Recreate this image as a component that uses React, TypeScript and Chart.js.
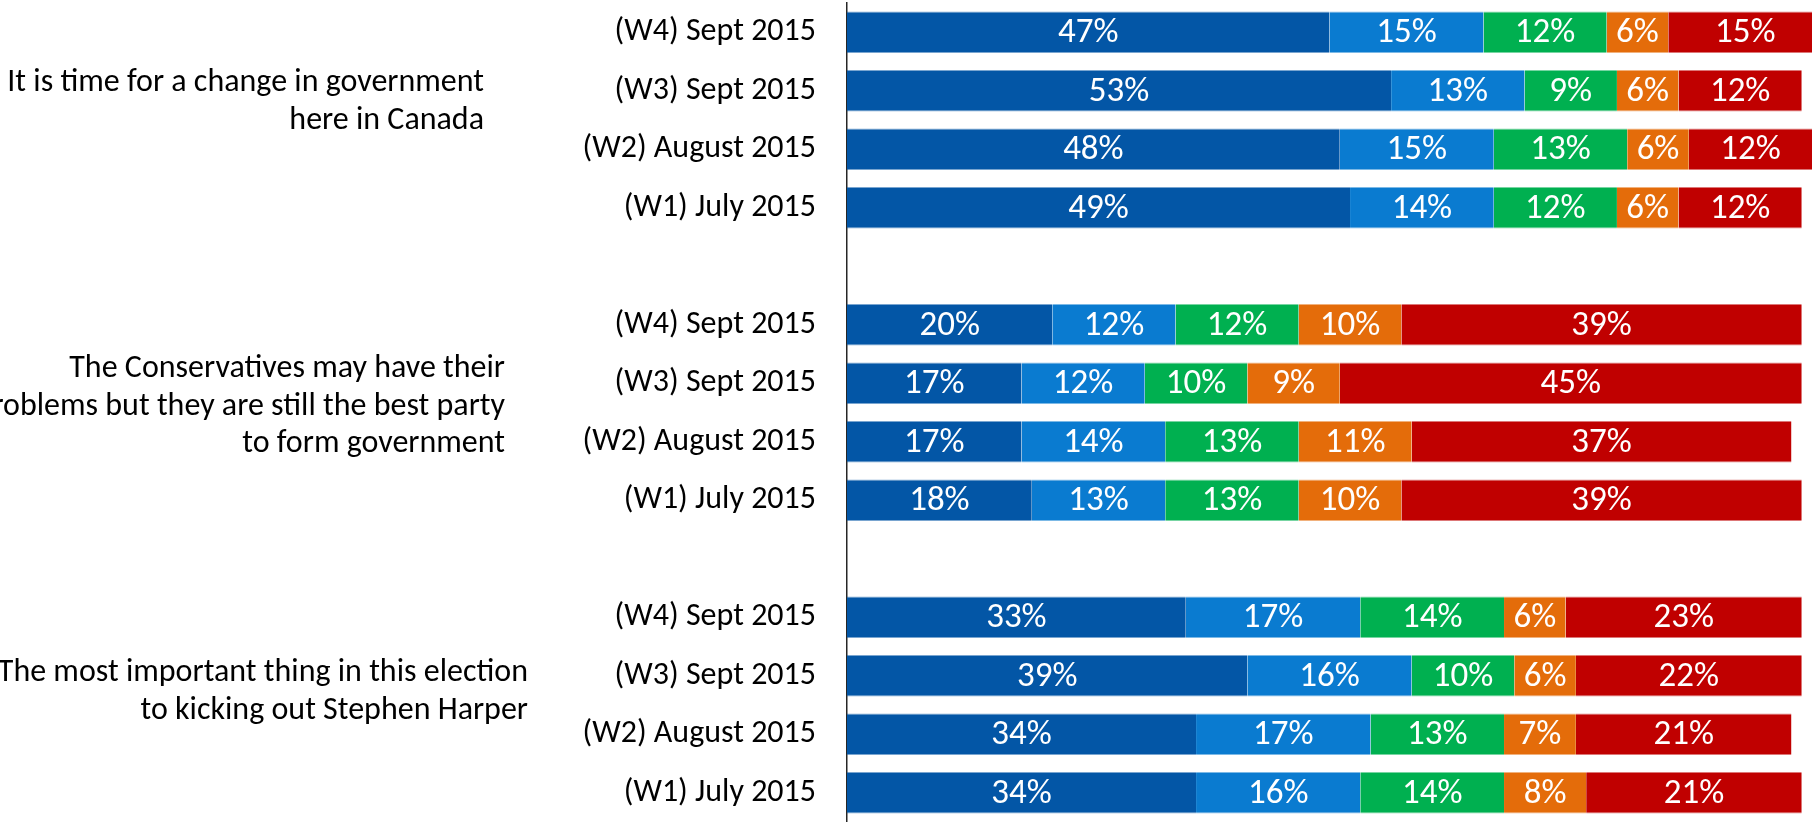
import React, { useEffect, useRef } from "react";
import { Chart, registerables } from "chart.js";

Chart.register(...registerables);

// ---- data ----
const waveLabels = ["(W4) Sept 2015", "(W3) Sept 2015", "(W2) August 2015", "(W1) July 2015"];

const statements: string[][] = [
  ["It is time for a change in government", "here in Canada"],
  ["The Conservatives may have their", "problems but they are still the best party", "to form government"],
  ["The most important thing in this election", "to kicking out Stephen Harper"],
];

const seriesNames = ["Strongly agree", "Somewhat agree", "Neither", "Somewhat disagree", "Strongly disagree"];

// rows per statement: W4, W3, W2, W1
const stronglyAgree = [47, 53, 48, 49, 20, 17, 17, 18, 33, 39, 34, 34];
const somewhatAgree = [15, 13, 15, 14, 12, 12, 14, 13, 17, 16, 17, 16];
const neither = [12, 9, 13, 12, 12, 10, 13, 13, 14, 10, 13, 14];
const somewhatDisagree = [6, 6, 6, 6, 10, 9, 11, 10, 6, 6, 7, 8];
const stronglyDisagree = [15, 12, 12, 12, 39, 45, 37, 39, 23, 22, 21, 21];

// ---- styles ----
const seriesColors = ["#0356A6", "#0A7BD0", "#00B050", "#E46C0A", "#C00000"];
const FONT = "Carlito, 'Liberation Sans Narrow', 'DejaVu Sans Condensed', sans-serif";
const groupLabelRight = [484, 505, 528];
const groupLabelOffset = [-18, -6, -13];
const groupLineHeight = 37.5;

function spread(values: number[]): (number | null)[] {
  const out: (number | null)[] = [];
  for (let g = 0; g < statements.length; g++) {
    if (g > 0) out.push(null);
    for (let i = 0; i < waveLabels.length; i++) out.push(values[g * waveLabels.length + i]);
  }
  return out;
}

const categoryLabels: string[] = [];
statements.forEach((_, g) => {
  if (g > 0) categoryLabels.push("");
  waveLabels.forEach((w) => categoryLabels.push(w));
});

const allSeries = [stronglyAgree, somewhatAgree, neither, somewhatDisagree, stronglyDisagree];

const valueLabelPlugin = {
  id: "valueLabels",
  afterDatasetsDraw(chart: any) {
    const ctx = chart.ctx;
    ctx.save();
    ctx.fillStyle = "#ffffff";
    ctx.font = `35px ${FONT}`;
    ctx.textAlign = "center";
    ctx.textBaseline = "middle";
    chart.data.datasets.forEach((ds: any, di: number) => {
      const meta = chart.getDatasetMeta(di);
      meta.data.forEach((el: any, i: number) => {
        const v = ds.data[i];
        if (v == null) return;
        const cx = (el.x + el.base) / 2;
        ctx.fillText(`${v}%`, cx, el.y + 1);
      });
    });
    ctx.restore();
  },
};

const groupLabelPlugin = {
  id: "groupLabels",
  afterDraw(chart: any) {
    const ctx = chart.ctx;
    const y = chart.scales.y;
    ctx.save();
    ctx.fillStyle = "#000000";
    ctx.font = `32px ${FONT}`;
    ctx.textAlign = "right";
    ctx.textBaseline = "middle";
    statements.forEach((lines, g) => {
      const first = g * (waveLabels.length + 1);
      const last = first + waveLabels.length - 1;
      const center = (y.getPixelForValue(first) + y.getPixelForValue(last)) / 2 + groupLabelOffset[g];
      const top = center - ((lines.length - 1) * groupLineHeight) / 2;
      lines.forEach((line, li) => {
        ctx.fillText(line, groupLabelRight[g], top + li * groupLineHeight);
      });
    });
    ctx.restore();
  },
};

export default function App() {
  const ref = useRef<HTMLCanvasElement | null>(null);
  useEffect(() => {
    document.body.style.margin = "0";
    if (!ref.current) return;
    const chart = new Chart(ref.current, {
      type: "bar",
      data: {
        labels: categoryLabels,
        datasets: allSeries.map((s, i) => ({
          label: seriesNames[i],
          data: spread(s),
          backgroundColor: seriesColors[i],
          borderColor: seriesColors[i] + "88",
          borderWidth: { top: 1, bottom: 1, left: 0, right: 0 },
          borderSkipped: false,
          categoryPercentage: 1,
          barPercentage: 0.712,
        })),
      },
      options: {
        indexAxis: "y",
        animation: false,
        responsive: false,
        maintainAspectRatio: false,
        layout: { padding: { top: 3, bottom: 0, left: 0, right: 0 } },
        plugins: { legend: { display: false }, tooltip: { enabled: false } },
        scales: {
          x: { stacked: true, min: 0, max: 94, display: false },
          y: {
            stacked: true,
            grid: { display: false, drawTicks: false },
            border: { display: true, color: "#262626", width: 1.5 },
            ticks: { color: "#000000", font: { family: FONT, size: 32 }, padding: 31, autoSkip: false },
            afterFit: (scale: any) => {
              scale.width = 847;
              scale.paddingTop = 0;
              scale.paddingBottom = 0;
            },
          },
        },
      } as any,
      plugins: [valueLabelPlugin, groupLabelPlugin],
    });
    return () => chart.destroy();
  }, []);
  return (
    <div style={{ width: 1812, height: 822 }}>
      <canvas ref={ref} width={1812} height={822} style={{ display: "block" }} />
    </div>
  );
}
